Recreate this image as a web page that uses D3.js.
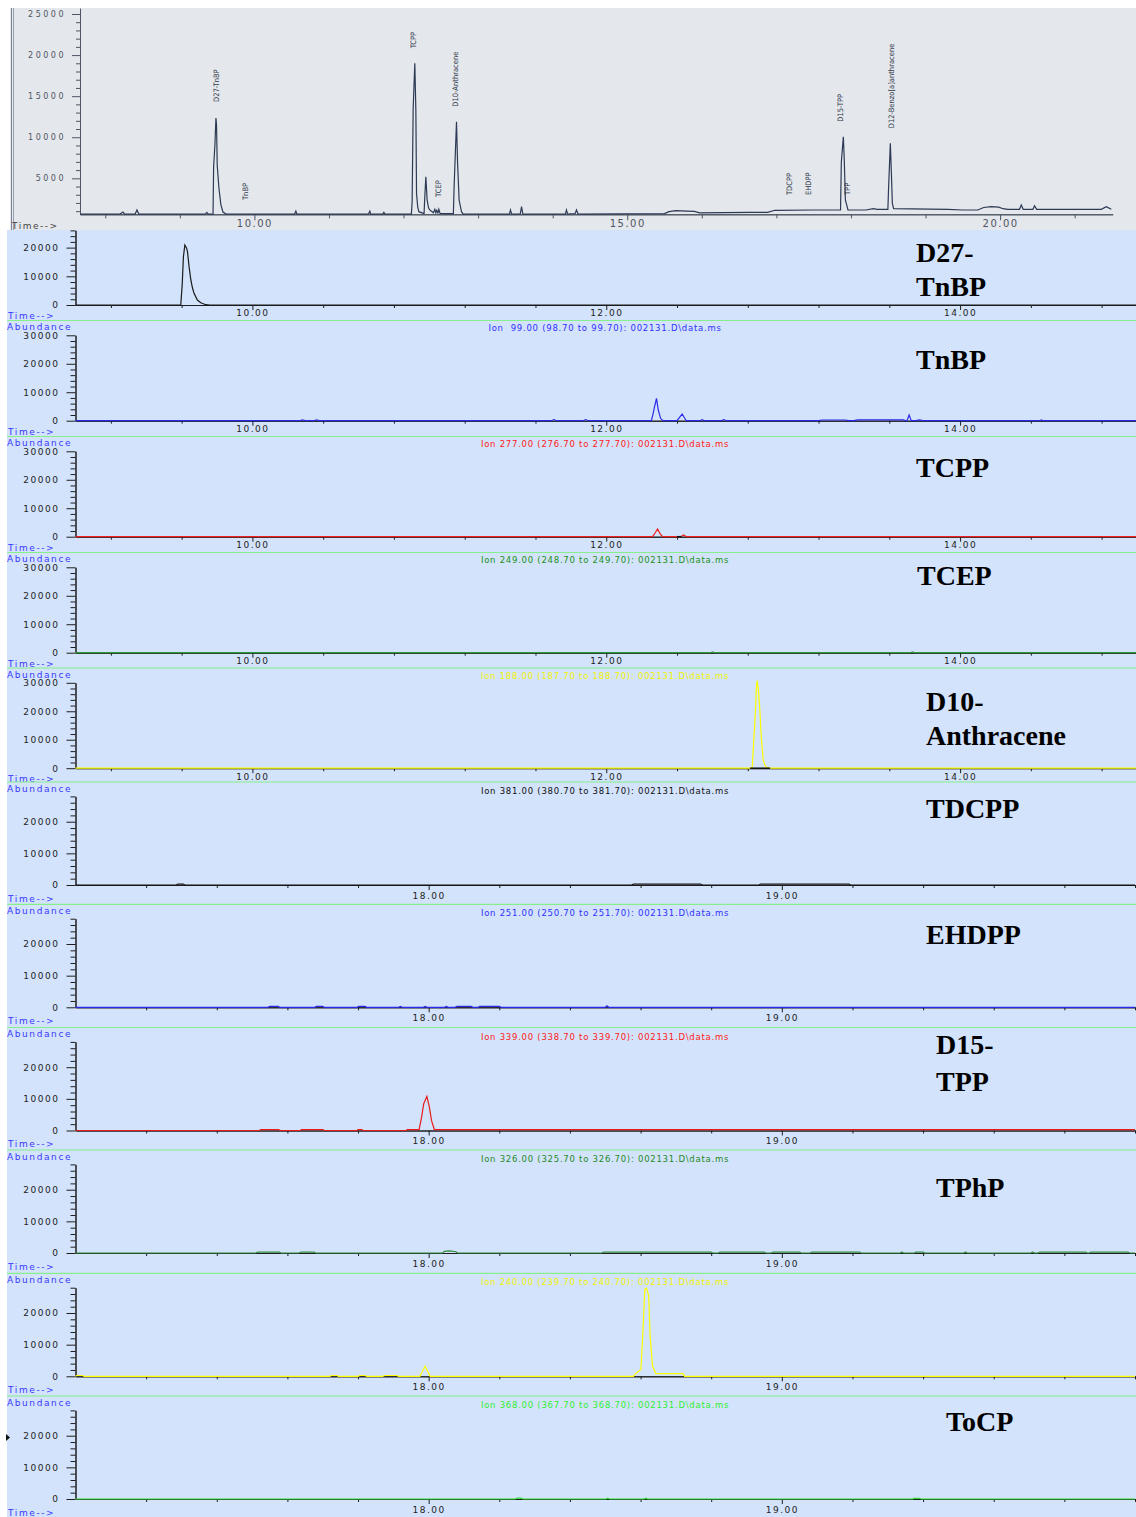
<!DOCTYPE html>
<html>
<head>
<meta charset="utf-8">
<script src="https://cdn.jsdelivr.net/npm/d3@7"></script>
<style>
  body { margin: 0; background: #fff; }
  svg { display: block; }
  text { font-family: "DejaVu Sans", sans-serif; }
</style>
</head>
<body>
<div id="chart"></div>
<script>
// ---------- data: total ion chromatogram (time in min, abundance) ----------
const ticTrace = [
  [7.661, 650], [8.20, 650], [8.237, 900], [8.26, 650], [8.40, 650], [8.425, 1150], [8.45, 650],
  [9.34, 650], [9.363, 850], [9.38, 650],
  [9.445, 650], [9.453, 6380], [9.470, 9000], [9.484, 12340], [9.492, 11500], [9.501, 6620],
  [9.524, 3820], [9.55, 1800], [9.578, 900], [9.62, 650],
  [10.54, 650], [10.556, 1000], [10.57, 650],
  [11.53, 650], [11.548, 1000], [11.56, 650], [11.72, 650], [11.736, 850], [11.75, 650],
  [12.105, 650], [12.115, 2150], [12.129, 13520], [12.151, 19000], [12.165, 13310], [12.174, 3180],
  [12.19, 1500], [12.205, 940],
  [12.275, 700], [12.285, 2760], [12.299, 5200], [12.316, 2360], [12.335, 1400], [12.352, 1150],
  [12.40, 800], [12.420, 1230], [12.433, 800], [12.446, 1100], [12.46, 800], [12.473, 1230], [12.49, 700],
  [12.668, 700], [12.678, 3980], [12.710, 11890], [12.724, 7020], [12.745, 2360], [12.777, 940], [12.80, 650],
  [13.42, 650], [13.434, 1144], [13.45, 650], [13.565, 650], [13.582, 1550], [13.60, 650],
  [14.17, 650], [14.185, 1144], [14.20, 650], [14.30, 700], [14.319, 1144], [14.34, 650],
  [15.50, 700], [15.56, 950], [15.65, 1060], [15.80, 1000], [15.90, 980], [15.97, 800],
  [16.642, 860], [16.88, 860], [16.98, 1110], [17.5, 1144], [17.86, 1144],
  [17.871, 7020], [17.898, 10065], [17.911, 7020], [17.925, 2360], [17.960, 1144],
  [18.2, 1144], [18.3, 1300], [18.35, 1229],
  [18.495, 1229], [18.505, 3980], [18.528, 9260], [18.542, 5610], [18.555, 1960], [18.572, 1300],
  [19.3, 1229], [19.5, 1144], [19.70, 1144], [19.78, 1450], [19.88, 1550], [19.98, 1500], [20.04, 1300], [20.10, 1229],
  [20.26, 1229], [20.284, 1750], [20.31, 1229], [20.44, 1229], [20.462, 1667], [20.49, 1229],
  [21.357, 1229], [21.424, 1550], [21.491, 1229]
];
const ticPeakNames = ["D27-TnBP", "TnBP", "TCPP", "TCEP", "D10-Anthracene", "TDCPP", "EHDPP", "D15-TPP", "TPP", "D12-Benzo[a]anthracene"];
const ticPeakTimes = [9.484, 9.873, 12.129, 12.464, 12.697, 17.169, 17.424, 17.858, 17.946, 18.541];
const ticPeakLevels = [14290, 2360, 20820, 2730, 13720, 2970, 2970, 11890, 2970, 11090];
const ticMajorX = [10, 15, 20];
const ticMinorX = [8, 9, 11, 12, 13, 14, 16, 17, 18, 19, 21];
const ticMajorY = [5000, 10000, 15000, 20000, 25000];

// ---------- data: extracted ion panels ----------
const simNames = [["D27-", "TnBP"], ["TnBP"], ["TCPP"], ["TCEP"], ["D10-", "Anthracene"], ["TDCPP"], ["EHDPP"], ["D15-", "TPP"], ["TPhP"], [], ["ToCP"]];
const simIons = [
  "",
  "Ion  99.00 (98.70 to 99.70): 002131.D\\data.ms",
  "Ion 277.00 (276.70 to 277.70): 002131.D\\data.ms",
  "Ion 249.00 (248.70 to 249.70): 002131.D\\data.ms",
  "Ion 188.00 (187.70 to 188.70): 002131.D\\data.ms",
  "Ion 381.00 (380.70 to 381.70): 002131.D\\data.ms",
  "Ion 251.00 (250.70 to 251.70): 002131.D\\data.ms",
  "Ion 339.00 (338.70 to 339.70): 002131.D\\data.ms",
  "Ion 326.00 (325.70 to 326.70): 002131.D\\data.ms",
  "Ion 240.00 (239.70 to 240.70): 002131.D\\data.ms",
  "Ion 368.00 (367.70 to 368.70): 002131.D\\data.ms"
];
const simTraces = [
  [[9.0, 0], [9.595, 0], [9.603, 7000], [9.610, 16800], [9.618, 20900], [9.623, 20400], [9.628, 19800],
   [9.633, 18600], [9.642, 13360], [9.652, 8720], [9.661, 6000], [9.670, 4080], [9.689, 1740],
   [9.708, 800], [9.736, 100], [9.76, 0], [15.0, 0]],
  [[9.0, 0], [10.27, 0], [10.28, 250], [10.30, 0], [10.35, 0], [10.36, 250], [10.38, 0],
   [11.69, 0], [11.704, 400], [11.72, 0], [11.87, 0], [11.883, 400], [11.90, 0],
   [12.255, 0], [12.265, 2500], [12.273, 4900], [12.284, 7860], [12.294, 3750], [12.307, 840], [12.32, 0],
   [12.40, 0], [12.429, 2350], [12.452, 0], [12.53, 0], [12.542, 350], [12.555, 0], [12.65, 0], [12.664, 350], [12.68, 0],
   [13.20, 0], [13.22, 250], [13.35, 250], [13.37, 0], [13.40, 0], [13.42, 300], [13.68, 300], [13.695, 0],
   [13.70, 0], [13.712, 2000], [13.724, 0], [13.75, 0], [13.77, 300], [13.79, 0],
   [14.45, 0], [14.46, 250], [14.47, 0], [15.0, 0]],
  [[9.0, 0], [12.262, 0], [12.276, 1300], [12.290, 2700], [12.304, 1100], [12.318, 0],
   [12.42, 0], [12.437, 600], [12.454, 0], [15.0, 0]],
  [[9.0, 0], [12.59, 0], [12.60, 300], [12.615, 0], [13.72, 0], [13.73, 300], [13.745, 0], [15.0, 0]],
  [[9.0, 0], [12.825, 0], [12.834, 9950], [12.844, 20500], [12.848, 27540], [12.853, 30800], [12.860, 27540],
   [12.868, 20500], [12.876, 11110], [12.887, 2920], [12.900, 560], [12.92, 0], [15.0, 0]],
  [[17, 0], [17.285, 0], [17.29, 300], [17.305, 300], [17.31, 0], [18.575, 0], [18.58, 300], [18.77, 300],
   [18.775, 0], [18.935, 0], [18.94, 300], [19.19, 300], [19.195, 0], [20, 0]],
  [[17, 0], [17.545, 0], [17.55, 300], [17.574, 300], [17.578, 0], [17.678, 0], [17.682, 300], [17.70, 300],
   [17.704, 0], [17.798, 0], [17.802, 300], [17.82, 300], [17.824, 0], [17.915, 0], [17.92, 300], [17.925, 0],
   [17.985, 0], [17.99, 300], [17.995, 0], [18.045, 0], [18.05, 300], [18.055, 0], [18.075, 0], [18.08, 300],
   [18.12, 300], [18.125, 0], [18.14, 0], [18.145, 300], [18.20, 300], [18.205, 0], [18.50, 0], [18.505, 500],
   [18.51, 0], [20, 0]],
  [[17, 0], [17.52, 0], [17.525, 300], [17.575, 300], [17.58, 0], [17.636, 0], [17.64, 300], [17.70, 300],
   [17.705, 0], [17.797, 0], [17.80, 300], [17.81, 300], [17.815, 0], [17.935, 0], [17.94, 250], [17.973, 250],
   [17.980, 4220], [17.986, 8470], [17.995, 10800], [18.002, 7400], [18.008, 3175], [18.016, 300], [18.03, 250], [20, 250]],
  [[17, 0], [17.51, 0], [17.516, 300], [17.577, 300], [17.582, 0], [17.633, 0], [17.638, 300], [17.676, 300],
   [17.68, 0], [18.04, 0], [18.044, 500], [18.06, 700], [18.077, 400], [18.082, 0], [18.49, 0], [18.495, 300],
   [18.80, 300], [18.805, 0], [18.82, 0], [18.825, 300], [18.95, 300], [18.955, 0], [18.97, 0], [18.975, 300],
   [19.05, 300], [19.055, 0], [19.08, 0], [19.085, 300], [19.22, 300], [19.225, 0], [19.335, 0], [19.34, 300],
   [19.345, 0], [19.375, 0], [19.38, 300], [19.40, 300], [19.405, 0], [19.515, 0], [19.52, 300], [19.525, 0],
   [19.705, 0], [19.71, 300], [19.715, 0], [19.725, 0], [19.73, 300], [19.86, 300], [19.865, 0], [19.87, 0],
   [19.875, 300], [19.98, 300], [19.985, 0], [20, 0]],
  [[17, 0], [17.003, 250], [17.02, 250], [17.025, 0], [17.72, 0], [17.725, 250], [17.74, 250], [17.745, 0],
   [17.80, 0], [17.805, 250], [17.82, 250], [17.825, 0], [17.87, 0], [17.875, 250], [17.91, 250], [17.915, 0],
   [17.975, 0], [17.982, 1500], [17.990, 3170], [17.996, 1800], [18.004, 0], [18.58, 0], [18.585, 760],
   [18.601, 2130], [18.607, 14830], [18.612, 27530], [18.617, 27850], [18.623, 25400], [18.627, 12700],
   [18.634, 3175], [18.643, 860], [18.72, 860], [18.725, 0], [20, 0]],
  [[17, 0], [18.245, 0], [18.25, 250], [18.262, 250], [18.267, 0], [18.502, 0], [18.507, 250], [18.512, 0],
   [18.61, 0], [18.615, 250], [18.62, 0], [19.37, 0], [19.375, 200], [19.39, 200], [19.395, 0], [20, 0]]
];
// integration baseline marks [start, end] drawn in black under some peaks
const simMarks = [[], [], [[12.40, 12.425]], [], [[12.813, 12.926]], [], [], [], [], [], []];

const earlyMajor = [10, 12, 14];
const earlyMinor = [9.2, 9.6, 10.4, 10.8, 11.2, 11.6, 12.4, 12.8, 13.2, 13.6, 14.4, 14.8];
const lateMajor = [18, 19];
const lateMinor = [17.2, 17.4, 17.6, 17.8, 18.2, 18.4, 18.6, 18.8, 19.2, 19.4, 19.6, 19.8, 20];
const abMajor = [0, 10000, 20000, 30000];
const abMinor = [2000, 4000, 6000, 8000, 12000, 14000, 16000, 18000, 22000, 24000, 26000, 28000];

// ---------- layout / styles ----------
const W = 1136, H = 1517;
const panelTop = [230, 320.5, 436.5, 552.5, 668, 782, 904.3, 1027.5, 1150, 1273.3, 1396];
const traceColor = ["#1a1a1a", "#2a2ae8", "#ee2020", "#2a9a3a", "#ffff00", "#111111", "#2a2ae8", "#e81c1c", "#2e8b3e", "#ffff00", "#30dd30"];
const ionColor = ["#000", "#3030ff", "#ff2020", "#209020", "#f2f200", "#111", "#3030ff", "#ff2020", "#238a23", "#f2f200", "#30ee30"];
const nameSpots = [[916, 262, 34], [916, 369, 0], [916, 477, 0], [917, 585, 0], [926, 711, 34], [926, 818, 0],
                   [926, 944, 0], [936, 1054, 37], [936, 1197, 0], [0, 0, 0], [946, 1431, 0]];
const blue = "#3838ff";

const svg = d3.select("#chart").append("svg")
  .attr("width", W)
  .attr("height", H);

function styleTicks(g, size, spacing, color) {
  g.selectAll("text")
    .style("font-size", size + "px")
    .style("letter-spacing", spacing + "px")
    .attr("fill", color);
  g.selectAll("line").attr("stroke", color);
  g.select(".domain").attr("stroke", color);
}

// ---------- top: total ion chromatogram ----------
function drawTic() {
  const g = svg.append("g");
  g.append("rect").attr("x", 10).attr("y", 8).attr("width", W - 10).attr("height", 222).attr("fill", "#e4e7ec");
  g.append("line").attr("x1", 11.5).attr("x2", 11.5).attr("y1", 8).attr("y2", 230).attr("stroke", "#7d8594").attr("stroke-width", 1);
  g.append("line").attr("x1", 13.5).attr("x2", 13.5).attr("y1", 8).attr("y2", 230).attr("stroke", "#9aa1ad").attr("stroke-width", 1);

  const x = d3.scaleLinear().domain([7.661, 21.51]).range([80, 1112.7]);
  const y = d3.scaleLinear().domain([0, 25000]).range([219.4, 14]);
  const yAxisScale = y.copy().domain([620, 25700]).range([y(620), y(25700)]);
  const base = y(620);
  const axisColor = "#4e5563";

  const minorY = d3.range(1000, 25001, 1000).filter(v => v % 5000 !== 0);
  g.append("g").attr("transform", "translate(80,0)")
    .call(d3.axisLeft(yAxisScale).tickValues(minorY).tickSize(4).tickFormat("").tickSizeOuter(0))
    .call(a => styleTicks(a, 8, 2.5, axisColor));
  g.append("g").attr("transform", "translate(80,0)")
    .call(d3.axisLeft(yAxisScale).tickValues(ticMajorY).tickSize(8).tickPadding(6).tickSizeOuter(0).tickFormat(d3.format("d")))
    .call(a => styleTicks(a, 8, 2.5, axisColor));

  g.append("g").attr("transform", `translate(0,${base})`)
    .call(d3.axisBottom(x).tickValues(ticMinorX).tickSize(4).tickFormat("").tickSizeOuter(0))
    .call(a => styleTicks(a, 10, 1.5, axisColor));
  g.append("g").attr("transform", `translate(0,${base})`)
    .call(d3.axisBottom(x).tickValues(ticMajorX).tickSize(6).tickPadding(0).tickSizeOuter(0).tickFormat(d3.format(".2f")))
    .call(a => styleTicks(a, 10, 1.5, axisColor));

  g.append("text").attr("x", 12).attr("y", 229).text("Time-->")
    .style("font-size", "9px").style("letter-spacing", "1.5px").attr("fill", "#444");

  const line = d3.line().x(d => x(d[0])).y(d => y(d[1]));
  g.append("path").datum(ticTrace)
    .attr("d", line)
    .attr("fill", "none")
    .attr("stroke", "#2d3a55")
    .attr("stroke-width", 1.2);

  ticPeakNames.forEach((name, i) => {
    g.append("text")
      .attr("transform", `translate(${x(ticPeakTimes[i])},${y(ticPeakLevels[i])}) rotate(-90)`)
      .attr("dy", "0.35em")
      .style("font-family", "'Liberation Sans Narrow', 'DejaVu Sans Condensed', sans-serif")
      .style("font-size", "7.5px")
      .attr("fill", "#2d3648")
      .text(name);
  });
}

// ---------- extracted ion panels ----------
function drawPanel(i) {
  const top = panelTop[i];
  const bottom = i < panelTop.length - 1 ? panelTop[i + 1] : H;
  const late = i >= 5;
  const g = svg.append("g");

  g.append("rect").attr("x", 7).attr("y", top).attr("width", W - 7).attr("height", bottom - top).attr("fill", "#d3e3fb");
  if (i > 0) {
    g.append("line").attr("x1", 7).attr("x2", W).attr("y1", top).attr("y2", top)
      .attr("stroke", "#86ee8c").attr("stroke-width", 1.2);
  }

  const x = late
    ? d3.scaleLinear().domain([17, 20]).range([75.5, 1135])
    : d3.scaleLinear().domain([9, 15]).range([75.5, 1137]);
  let y;
  if (i === 0) y = d3.scaleLinear().domain([0, 26000]).range([305, 230.4]);
  else if (!late) y = d3.scaleLinear().domain([0, 30000]).range([top + 100.2, top + 14.8]);
  else y = d3.scaleLinear().domain([0, 28000]).range([top + 103, top + 14.4]);
  const zero = y(0);
  const ymax = y.domain()[1];

  // y axis
  g.append("g").attr("transform", "translate(75.5,0)")
    .call(d3.axisLeft(y).tickValues(abMinor.filter(v => v <= ymax)).tickSize(5).tickFormat("").tickSizeOuter(0))
    .call(a => styleTicks(a, 9, 1.5, "#1e1e1e"));
  g.append("g").attr("transform", "translate(75.5,0)")
    .call(d3.axisLeft(y).tickValues(abMajor.filter(v => v <= ymax)).tickSize(9).tickPadding(7).tickSizeOuter(0).tickFormat(d3.format("d")))
    .call(a => styleTicks(a, 9, 1.5, "#1e1e1e"));

  // x axis
  g.append("g").attr("transform", `translate(0,${zero})`)
    .call(d3.axisBottom(x).tickValues(late ? lateMinor : earlyMinor).tickSize(3).tickFormat("").tickSizeOuter(0))
    .call(a => styleTicks(a, 9, 1.5, "#1e1e1e"));
  g.append("g").attr("transform", `translate(0,${zero})`)
    .call(d3.axisBottom(x).tickValues(late ? lateMajor : earlyMajor).tickSize(5).tickPadding(late ? 2.5 : 0).tickSizeOuter(0).tickFormat(d3.format(".2f")))
    .call(a => styleTicks(a, 9, 1.5, "#1e1e1e"));

  // side labels
  if (i > 0) {
    g.append("text").attr("x", 7).attr("y", top + 9.5).text("Abundance")
      .style("font-size", "9px").style("letter-spacing", "1.6px").attr("fill", blue);
  }
  g.append("text").attr("x", 8).attr("y", zero + (late ? 16.5 : 14)).text("Time-->")
    .style("font-size", "9px").style("letter-spacing", "1.6px").attr("fill", blue);

  if (simIons[i]) {
    g.append("text").attr("x", 605).attr("y", top + (late ? 12 : 10.5))
      .attr("text-anchor", "middle")
      .style("white-space", "pre")
      .style("font-size", "8.5px").style("letter-spacing", "0.75px")
      .attr("fill", ionColor[i])
      .text(simIons[i]);
  }

  // trace
  const line = d3.line().x(d => x(d[0])).y(d => y(d[1]));
  g.append("path").datum(simTraces[i])
    .attr("d", line)
    .attr("fill", "none")
    .attr("stroke", traceColor[i])
    .attr("stroke-width", 1.2);

  simMarks[i].forEach(m => {
    g.append("line").attr("x1", x(m[0])).attr("x2", x(m[1])).attr("y1", zero).attr("y2", zero)
      .attr("stroke", "#111").attr("stroke-width", 1.5);
  });

  // compound name
  const spot = nameSpots[i];
  simNames[i].forEach((word, k) => {
    g.append("text").attr("x", spot[0]).attr("y", spot[1] + k * spot[2])
      .style("font-family", "'Liberation Serif', 'Times New Roman', serif")
      .style("font-weight", "bold")
      .style("font-size", "28px")
      .attr("fill", "#000")
      .text(word);
  });
}

drawTic();
simTraces.forEach((d, i) => drawPanel(i));

// small pointer at the left of the last panel
svg.append("path").attr("d", "M6,1434 L10,1437.5 L6,1441 Z").attr("fill", "#111");
</script>
</body>
</html>
